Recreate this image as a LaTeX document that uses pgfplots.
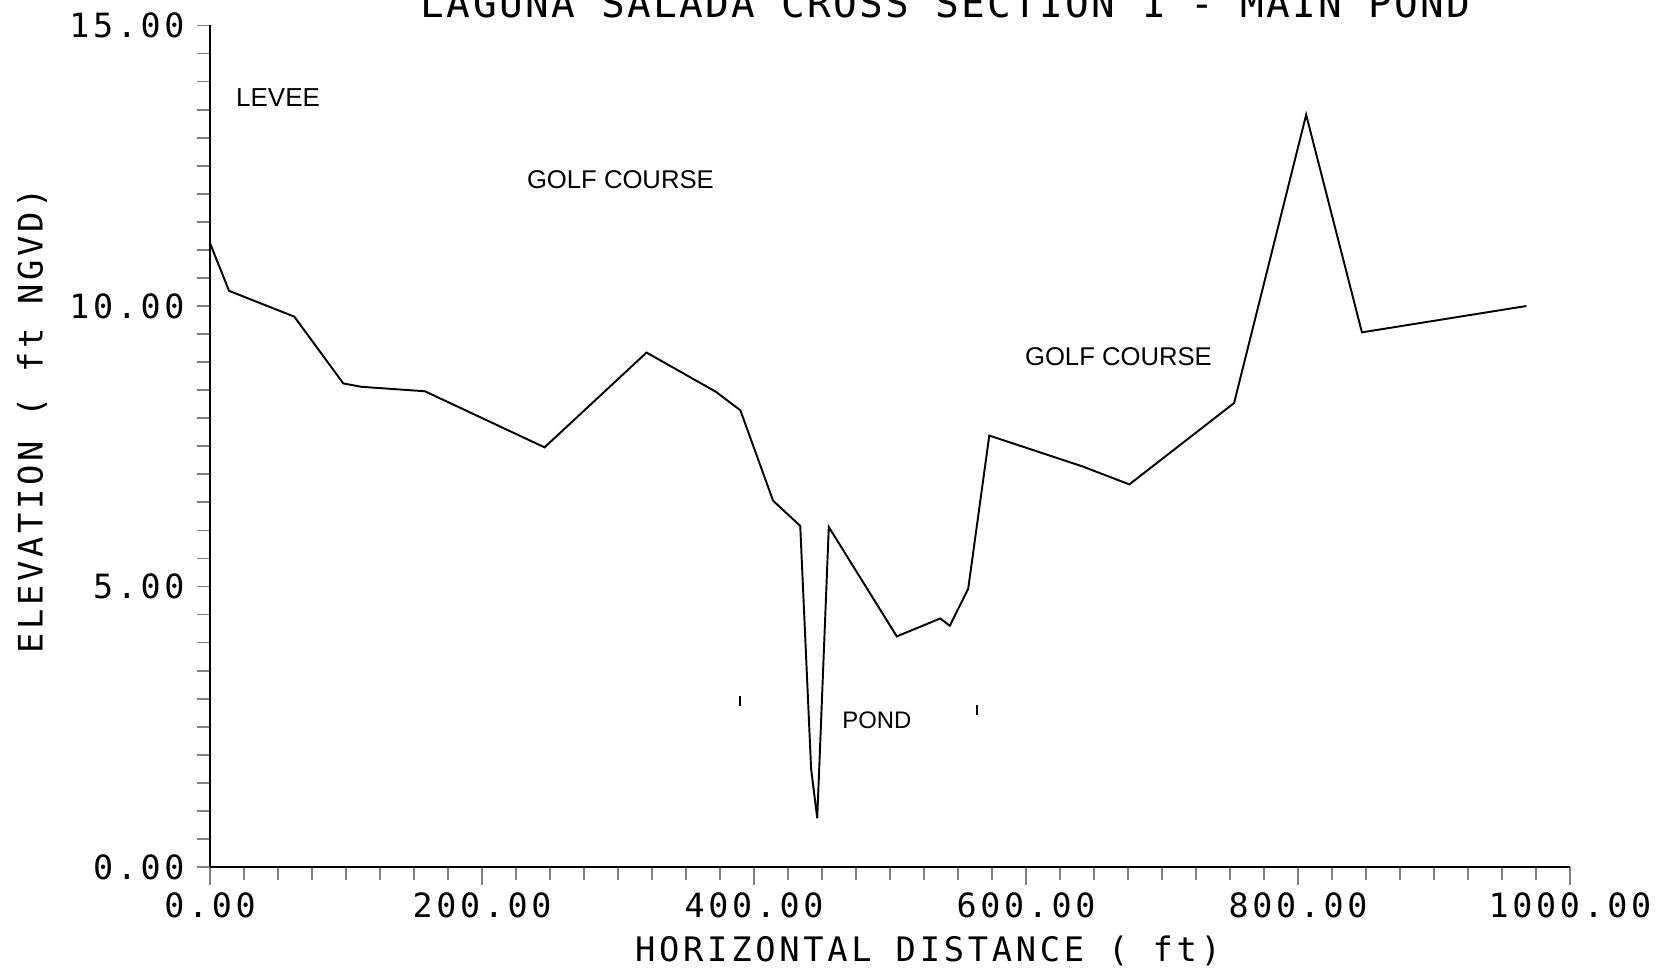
\documentclass[border=0pt]{standalone}
\usepackage{fontspec}
\setmainfont{Liberation Sans}
\newfontfamily\plotfont[LetterSpace=11]{DejaVu Sans Mono}
\newfontfamily\titlefont[LetterSpace=6]{DejaVu Sans Mono}
\usepackage{pgfplots}
\pgfplotsset{compat=1.18}

\begin{document}
\begin{tikzpicture}
\useasboundingbox (0,0) rectangle (16.64cm,9.70cm);
\clip (0,0) rectangle (16.64cm,9.70cm);
\begin{axis}[
  at={(2.10cm,1.03cm)}, anchor=south west,
  scale only axis, width=13.6cm, height=8.415cm,
  xmin=0, xmax=1000, ymin=0, ymax=15,
  axis lines=left, axis line style={-, line width=0.7pt},
  clip=false,
  xtick={0,200,...,1000}, minor x tick num=7,
  ytick={0,5,10,15}, minor y tick num=9,
  tick align=outside,
  major tick length=0.13cm, minor tick length=0.13cm,
  xtick style={/pgfplots/major tick length=0.18cm, line width=0.5pt},
  ytick style={line width=0.5pt},
  minor tick style={line width=0.5pt},
  /pgf/number format/.cd, fixed, fixed zerofill, precision=2, 1000 sep={}, assume math mode=true,
  /pgfplots/.cd,
  ticklabel style={font=\plotfont\fontsize{9.5}{10}\selectfont},
  xlabel={HORIZONTAL DISTANCE ( ft)},
  ylabel={ELEVATION ( ft NGVD)},
  xlabel style={at={(axis description cs:0.528,-0.0998)}, anchor=center, font=\plotfont\fontsize{9.6}{10}\selectfont},
  ylabel style={at={(axis description cs:-0.1309,0.530)}, anchor=center, rotate=0, font=\plotfont\fontsize{9.6}{10}\selectfont},
]
\addplot[black, line width=0.55pt, line join=miter] coordinates {
  (0,11.12) (14,10.27) (62,9.81) (98,8.62) (111,8.56) (158,8.48)
  (246,7.48) (321,9.17) (372,8.47) (390,8.14) (414,6.53) (434,6.08)
  (442,1.75) (446.5,0.87) (455,6.06) (505,4.11) (537,4.43) (544,4.30)
  (557.5,4.96) (573,7.69) (641.6,7.14) (676,6.82) (753,8.27) (806,13.41)
  (847,9.53) (968,10.0)
};
\addplot[only marks, mark=|, mark size=0.5mm, line width=0.6pt] coordinates {(390,2.95) (564,2.8)};
\node[anchor=west, inner sep=0pt, font=\fontsize{7.4}{9}\selectfont] at (axis cs:18.7,13.71) {LEVEE};
\node[anchor=west, inner sep=0pt, font=\fontsize{7.3}{9}\selectfont] at (axis cs:232.6,12.25) {GOLF COURSE};
\node[anchor=west, inner sep=0pt, font=\fontsize{7.3}{9}\selectfont] at (axis cs:598.8,9.09) {GOLF COURSE};
\node[anchor=west, inner sep=0pt, font=\fontsize{6.8}{9}\selectfont] at (axis cs:464.5,2.61) {POND};
\node[anchor=base, font=\titlefont\fontsize{11.2}{12}\selectfont] at (axis description cs:0.541,1.0095) {LAGUNA SALADA CROSS SECTION 1 - MAIN POND};
\end{axis}
\end{tikzpicture}
\end{document}
